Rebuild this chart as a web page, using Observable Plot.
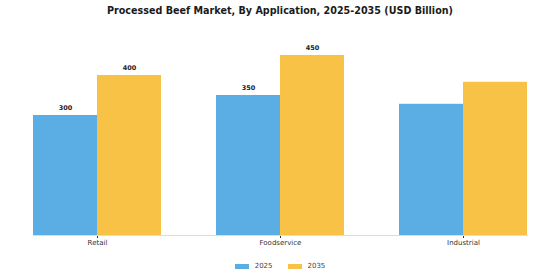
<!DOCTYPE html>
<html>
<head>
<meta charset="utf-8">
<script src="https://cdn.jsdelivr.net/npm/d3@7"></script>
<script src="https://cdn.jsdelivr.net/npm/@observablehq/plot@0.6"></script>
<style>
  html, body { margin: 0; padding: 0; background: #fff; }
  body { width: 560px; height: 280px; overflow: hidden; font-family: "DejaVu Sans", sans-serif; }
  #title { height: 22px; line-height: 22px; text-align: center; font-weight: bold; font-size: 9.6px; color: #1a1a1a; }
  #legend { display: flex; justify-content: center; align-items: center; gap: 15px; height: 24px; font-size: 7px; color: #444; }
  #legend .item { display: flex; align-items: center; gap: 6px; }
  #legend .sw { width: 14px; height: 5px; display: inline-block; }
</style>
</head>
<body>
<div id="title">Processed Beef Market, By Application, 2025-2035 (USD Billion)</div>
<div id="chart"></div>
<div id="legend"></div>
<script>
// Market size by application segment (USD Billion)
const categories = ["Retail", "Foodservice", "Industrial"];
const years = ["2025", "2035"];
const values2025 = [300, 350, 328];
const values2035 = [400, 450, 383];
// Value labels printed above the bars (Industrial bars are unlabelled)
const labels2025 = ["300", "350", null];
const labels2035 = ["400", "450", null];
const colors = ["#5aaee3", "#f7c246"];

const rows = categories.flatMap((c, i) => [
  {category: c, year: years[0], value: values2025[i], label: labels2025[i]},
  {category: c, year: years[1], value: values2035[i], label: labels2035[i]}
]);

const chart = Plot.plot({
  width: 560,
  height: 232,
  marginLeft: 8,
  marginRight: 8,
  marginTop: 13,
  marginBottom: 19,
  style: {fontFamily: "DejaVu Sans, sans-serif", fontSize: "7px", color: "#333", background: "#fff"},
  fx: {domain: categories, paddingInner: 0.3, paddingOuter: 0.13, label: null, tickSize: 3, tickPadding: 2},
  x: {domain: years, padding: 0, axis: null},
  y: {domain: [0, 500], axis: null},
  color: {domain: years, range: colors},
  marks: [
    Plot.barY(rows, {fx: "category", x: "year", y: "value", fill: "year"}),
    // baseline across the whole plot (y domain starts at zero)
    Plot.frame({anchor: "bottom", stroke: "#dcdcdc", strokeWidth: 1, facet: "super"}),
    Plot.text(rows.filter(d => d.label != null), {
      fx: "category", x: "year", y: "value", text: "label",
      dy: -8, fontWeight: "bold", fontSize: 6.5, fill: "#222"
    })
  ]
});
document.getElementById("chart").appendChild(chart);

// Legend below the plot
const legend = document.getElementById("legend");
years.forEach((y, i) => {
  const item = document.createElement("span");
  item.className = "item";
  const sw = document.createElement("span");
  sw.className = "sw";
  sw.style.background = colors[i];
  const t = document.createElement("span");
  t.textContent = y;
  item.appendChild(sw);
  item.appendChild(t);
  legend.appendChild(item);
});
</script>
</body>
</html>
